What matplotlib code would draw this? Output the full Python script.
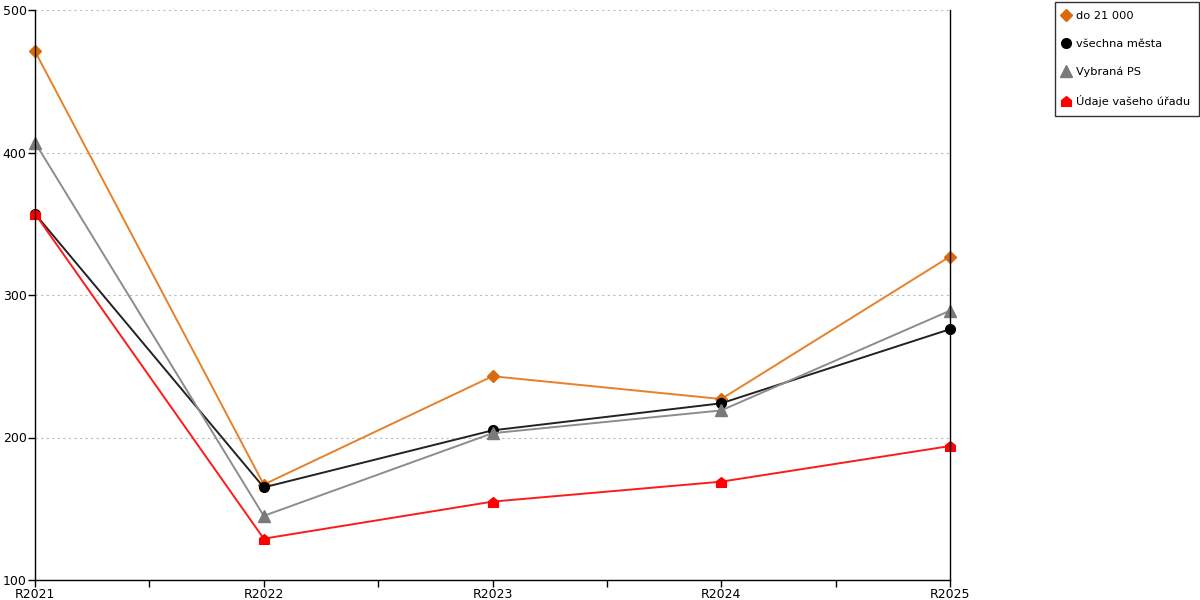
import matplotlib
matplotlib.use("Agg")
import matplotlib.pyplot as plt
from matplotlib.path import Path
import numpy as np

categories = ["R2021", "R2022", "R2023", "R2024", "R2025"]
do21000 = [471, 167, 243, 227, 327]
vsechna_mesta = [357, 165, 205, 224, 276]
vybrana_ps = [407, 145, 203, 219, 289]
udaje_uradu = [357, 129, 155, 169, 194]

plt.rcParams['font.family'] = ['DejaVu Sans']

fig = plt.figure(figsize=(12, 6), dpi=100)
ax = fig.add_axes([35/1200, 20/600, 915/1200, 570/600])

house = Path([(-1, -1), (1, -1), (1, 0.2), (0, 1), (-1, 0.2), (-1, -1)],
             [Path.MOVETO, Path.LINETO, Path.LINETO, Path.LINETO, Path.LINETO, Path.CLOSEPOLY])

x = np.arange(len(categories))
series = [
    (do21000, "do 21 000", "#E8802A", "#D96A10", "D", 6.0),
    (vsechna_mesta, "všechna města", "#222222", "#000000", "o", 7.0),
    (vybrana_ps, "Vybraná PS", "#8C8C8C", "#7A7A7A", "^", 8.0),
    (udaje_uradu, "Údaje vašeho úřadu", "#FF1A1A", "#FF0000", house, 7.0),
]
handles = []
for vals, label, lc, mc, m, ms in series:
    h, = ax.plot(x, vals, color=lc, lw=1.4, marker=m, markersize=ms,
                 markerfacecolor=mc, markeredgecolor=mc, label=label, clip_on=False)
    handles.append(h)

ax.set_xlim(0, 4)
ax.set_ylim(100, 500)
ax.set_yticks([100, 200, 300, 400, 500])
ax.set_xticks(np.arange(0, 4.01, 0.5))
labels = []
for i in range(9):
    labels.append(categories[i // 2] if i % 2 == 0 else "")
ax.set_xticklabels(labels)

ax.grid(axis='y', color='#BBBBBB', linestyle=(0, (2, 3)), linewidth=0.8)
ax.set_axisbelow(True)
ax.spines['top'].set_visible(False)
for s in ['left', 'right', 'bottom']:
    ax.spines[s].set_color('black')
    ax.spines[s].set_linewidth(1.0)
ax.tick_params(axis='both', direction='out', length=5, width=1, labelsize=9, colors='black', pad=1)
ax.tick_params(axis='y', right=False)

leg = fig.legend(handles=handles, loc='upper left', bbox_to_anchor=(1055/1200, 1 - 2/600),
                 frameon=True, fancybox=False, edgecolor='black', fontsize=8.2,
                 handlelength=0.3, handletextpad=0.7, labelspacing=1.55,
                 borderpad=0.8, borderaxespad=0)
leg.get_frame().set_linewidth(1.0)
for lh in leg.get_lines():
    lh.set_linestyle('None')

fig.savefig("out.png", dpi=100)
